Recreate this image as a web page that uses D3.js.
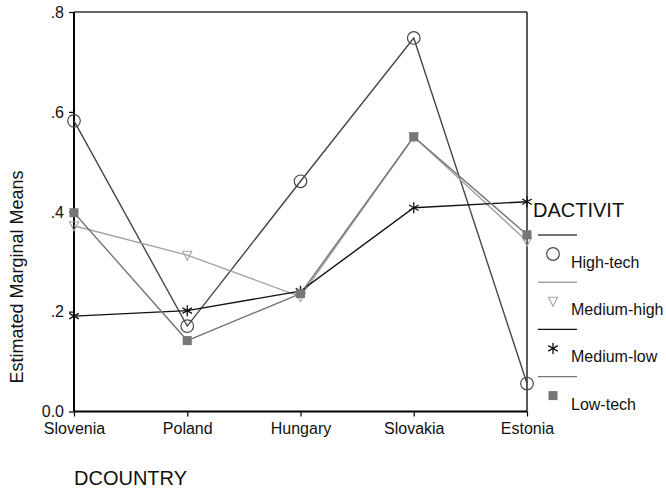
<!DOCTYPE html>
<html><head><meta charset="utf-8">
<script src="https://cdn.jsdelivr.net/npm/d3@7"></script>
<style>body{margin:0;background:#fff}svg{display:block;font-family:"Liberation Sans",Arial,sans-serif}</style>
</head><body><svg id="c" width="666" height="494"></svg>
<script>
const countries = ["Slovenia","Poland","Hungary","Slovakia","Estonia"];
const seriesNames = ["High-tech","Medium-high","Medium-low","Low-tech"];
const highTech   = [0.582,0.171,0.461,0.748,0.056];
const mediumHigh = [0.372,0.313,0.230,0.550,0.341];
const mediumLow  = [0.191,0.202,0.241,0.408,0.420];
const lowTech    = [0.398,0.142,0.236,0.550,0.354];
const yTicks = [0,0.2,0.4,0.6,0.8];
const yTickLabels = ["0.0",".2",".4",".6",".8"];

const series = [
  {name:seriesNames[0], values:highTech,   color:"#474747", sym:"circle"},
  {name:seriesNames[1], values:mediumHigh, color:"#a3a3a3", sym:"tri"},
  {name:seriesNames[2], values:mediumLow,  color:"#111111", sym:"star"},
  {name:seriesNames[3], values:lowTech,    color:"#777777", sym:"square"}
];

const svg = d3.select("#c");
const L=74, R=527, T=12, B=411.5;
const x = d3.scalePoint().domain(countries).range([L,R]);
const y = d3.scaleLinear().domain([0,0.8]).range([B,T]);

// frame top/right
svg.append("line").attr("x1",L).attr("x2",R).attr("y1",T).attr("y2",T).attr("stroke","#333").attr("stroke-width",1.6);
svg.append("line").attr("x1",R).attr("x2",R).attr("y1",T).attr("y2",B).attr("stroke","#333").attr("stroke-width",1.6);

// axes
const yAxis = svg.append("g").attr("transform",`translate(${L},0)`)
  .call(d3.axisLeft(y).tickValues(yTicks).tickFormat((d,i)=>yTickLabels[i]).tickSize(5).tickPadding(5));
const xAxis = svg.append("g").attr("transform",`translate(0,${B})`)
  .call(d3.axisBottom(x).tickSize(5).tickPadding(6));
[yAxis,xAxis].forEach(g=>{
  g.select(".domain").attr("stroke","#000").attr("stroke-width",2);
  g.selectAll(".tick line").attr("stroke","#000").attr("stroke-width",1.2);
  g.selectAll(".tick text").attr("font-size",16).attr("fill","#111").attr("font-family","Liberation Sans, Arial, sans-serif");
});
xAxis.select(".domain").attr("d",`M${L},0H${R}`);
yAxis.select(".domain").attr("d",`M0,${B}V${T}`);
yAxis.selectAll(".tick text").attr("dy","0.33em");

// axis titles
svg.append("text").attr("x",74).attr("y",485).attr("font-size",20).attr("fill","#111").text("DCOUNTRY");
svg.append("text").attr("transform","translate(23,277) rotate(-90)").attr("text-anchor","middle")
  .attr("font-size",18).attr("fill","#111").text("Estimated Marginal Means");

function drawSym(g, s, cx, cy){
  if(s.sym==="circle"){
    g.append("circle").attr("cx",cx).attr("cy",cy).attr("r",6.3).attr("fill","none").attr("stroke",s.color).attr("stroke-width",1.2);
  } else if(s.sym==="tri"){
    g.append("path").attr("d",`M${cx-4.5},${cy-4}L${cx+4.5},${cy-4}L${cx},${cy+5}Z`).attr("fill","none").attr("stroke",s.color).attr("stroke-width",1.1);
  } else if(s.sym==="star"){
    const r=5.5;
    let d="";
    [90,30,150].forEach(a=>{const rad=a*Math.PI/180;d+=`M${cx-r*Math.cos(rad)},${cy-r*Math.sin(rad)}L${cx+r*Math.cos(rad)},${cy+r*Math.sin(rad)}`;});
    g.append("path").attr("d",d).attr("stroke",s.color).attr("stroke-width",1.3).attr("fill","none");
  } else {
    g.append("rect").attr("x",cx-4.5).attr("y",cy-4.5).attr("width",9).attr("height",9).attr("fill",s.color);
  }
}

const line = d3.line().x((d,i)=>x(countries[i])).y(d=>y(d));
series.forEach(s=>{
  svg.append("path").attr("d",line(s.values)).attr("fill","none").attr("stroke",s.color).attr("stroke-width",1.4);
});
series.forEach(s=>{
  const g=svg.append("g");
  s.values.forEach((v,i)=>drawSym(g,s,x(countries[i]),y(v)));
});

// legend
svg.append("text").attr("x",533).attr("y",217).attr("font-size",20).attr("fill","#111").text("DACTIVIT");
series.forEach((s,i)=>{
  const ly = 235 + i*47.2;
  svg.append("line").attr("x1",538).attr("x2",577).attr("y1",ly).attr("y2",ly).attr("stroke",s.color).attr("stroke-width",1.4);
  const g=svg.append("g");
  drawSym(g,s,553,ly+19);
  svg.append("text").attr("x",571).attr("y",ly+33).attr("font-size",16).attr("fill","#111").text(s.name);
});
</script></body></html>
